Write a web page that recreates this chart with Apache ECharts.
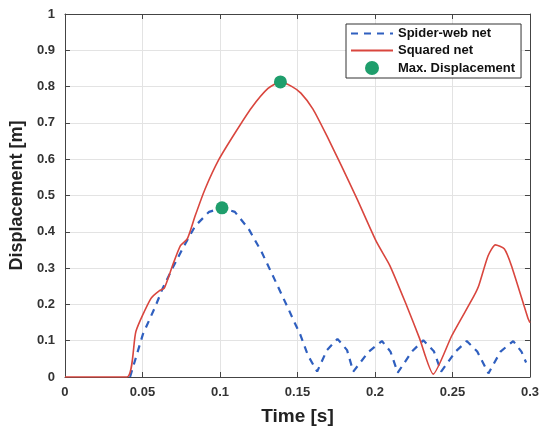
<!DOCTYPE html>
<html><head><meta charset="utf-8">
<script src="https://cdn.jsdelivr.net/npm/echarts@6/dist/echarts.min.js"></script>
<style>html,body{margin:0;padding:0;background:#fff}#c{width:542px;height:431px}</style>
</head><body><div id="c"></div>
<script>
var xTicks = [0, 0.05, 0.1, 0.15, 0.2, 0.25, 0.3];
var yTicks = [0, 0.1, 0.2, 0.3, 0.4, 0.5, 0.6, 0.7, 0.8, 0.9, 1];

var squaredT = [0, 0.040, 0.0458, 0.0554, 0.061, 0.064, 0.0694, 0.0745, 0.079, 0.084, 0.0904, 0.0994, 0.1098, 0.1204, 0.131, 0.139, 0.1465, 0.1522, 0.160, 0.169, 0.178, 0.1885, 0.201, 0.2096, 0.2204, 0.2287, 0.2376, 0.2497, 0.2637, 0.267, 0.273, 0.2777, 0.2834, 0.288, 0.2987, 0.3];
var squaredY = [0, 0, 0.126, 0.216, 0.238, 0.244, 0.307, 0.362, 0.381, 0.444, 0.518, 0.600, 0.673, 0.742, 0.795, 0.813, 0.800, 0.782, 0.738, 0.664, 0.585, 0.490, 0.372, 0.307, 0.197, 0.107, 0.008, 0.115, 0.222, 0.252, 0.334, 0.364, 0.353, 0.307, 0.162, 0.150];

var spiderT = [0.042, 0.0503, 0.0586, 0.063, 0.0694, 0.0758, 0.084, 0.093, 0.1013, 0.1096, 0.1185, 0.1268, 0.135, 0.144, 0.1478, 0.152, 0.1567, 0.1627, 0.169, 0.1758, 0.182, 0.1860, 0.196, 0.2045, 0.210, 0.2147, 0.224, 0.2312, 0.238, 0.2427, 0.252, 0.2592, 0.266, 0.2732, 0.281, 0.2892, 0.2945, 0.2975];
var spiderY = [0, 0.118, 0.197, 0.244, 0.300, 0.353, 0.416, 0.455, 0.466, 0.455, 0.408, 0.345, 0.271, 0.189, 0.153, 0.115, 0.060, 0.015, 0.074, 0.105, 0.074, 0.015, 0.070, 0.099, 0.070, 0.012, 0.071, 0.101, 0.071, 0.015, 0.070, 0.099, 0.070, 0.010, 0.070, 0.099, 0.070, 0.040];

var maxT = [0.1013, 0.139];
var maxY = [0.466, 0.813];

function pairs(a, b) { return a.map(function (v, i) { return [v, b[i]]; }); }

var FONT = '"Liberation Sans", Arial, sans-serif';
var chart = echarts.init(document.getElementById('c'), null, {renderer: 'canvas'});
chart.setOption({
  animation: false,
  backgroundColor: '#fff',
  grid: {left: 61, right: 11, top: 14, bottom: 52, show: false},
  legend: {
    orient: 'vertical', left: 346, top: 24,
    backgroundColor: '#fff', borderColor: '#333', borderWidth: 1,
    padding: [3, 6, 3, 4], itemGap: 4, itemWidth: 42, itemHeight: 14,
    textStyle: {fontFamily: FONT, fontWeight: 'bold', fontSize: 13, color: '#111'},
    data: [
      {name: 'Spider-web net', itemStyle: {opacity: 0}},
      {name: 'Squared net', itemStyle: {opacity: 0}},
      {name: 'Max. Displacement'}
    ]
  },
  xAxis: [{
    type: 'value', min: 0, max: 0.3, interval: 0.05,
    name: 'Time [s]', nameLocation: 'middle', nameGap: 30,
    nameTextStyle: {fontFamily: FONT, fontWeight: 'bold', fontSize: 19, color: '#222'},
    axisLine: {show: true, onZero: false, lineStyle: {color: '#444', width: 1}},
    axisTick: {show: true, inside: true, length: 5, lineStyle: {color: '#444'}},
    axisLabel: {fontFamily: FONT, fontWeight: 'bold', fontSize: 13, color: '#333', margin: 9,
      formatter: function (v) { return String(+v.toFixed(2)); }},
    splitLine: {show: true, lineStyle: {color: '#e3e3e3', width: 1}}
  }, {
    type: 'value', position: 'top', min: 0, max: 0.3, interval: 0.05,
    axisLine: {show: true, onZero: false, lineStyle: {color: '#444', width: 1}},
    axisTick: {show: true, inside: true, length: 5, lineStyle: {color: '#444'}},
    axisLabel: {show: false}, splitLine: {show: false}
  }],
  yAxis: [{
    type: 'value', min: 0, max: 1, interval: 0.1,
    name: 'Displacement [m]', nameLocation: 'middle', nameGap: 38,
    nameTextStyle: {fontFamily: FONT, fontWeight: 'bold', fontSize: 18, color: '#222'},
    axisLine: {show: true, onZero: false, lineStyle: {color: '#444', width: 1}},
    axisTick: {show: true, inside: true, length: 5, lineStyle: {color: '#444'}},
    axisLabel: {fontFamily: FONT, fontWeight: 'bold', fontSize: 13, color: '#333', margin: 10,
      formatter: function (v) { return String(+v.toFixed(1)); }},
    splitLine: {show: true, lineStyle: {color: '#e3e3e3', width: 1}}
  }, {
    type: 'value', position: 'right', min: 0, max: 1, interval: 0.1,
    axisLine: {show: true, onZero: false, lineStyle: {color: '#444', width: 1}},
    axisTick: {show: true, inside: true, length: 5, lineStyle: {color: '#444'}},
    axisLabel: {show: false}, splitLine: {show: false}
  }],
  series: [{
    name: 'Spider-web net', type: 'line', data: pairs(spiderT, spiderY),
    symbol: 'none', smooth: false, color: '#2f5fbf',
    lineStyle: {color: '#2f5fbf', width: 2.2, type: [7, 6]}, z: 2
  }, {
    name: 'Squared net', type: 'line', data: pairs(squaredT, squaredY),
    symbol: 'none', smooth: 0.2, color: '#d9463e',
    lineStyle: {color: '#d9463e', width: 1.6}, z: 3
  }, {
    name: 'Max. Displacement', type: 'scatter', data: pairs(maxT, maxY),
    symbol: 'circle', symbolSize: 13, color: '#1f9e6c',
    itemStyle: {color: '#1f9e6c', opacity: 1}, z: 4
  }]
});
</script></body></html>
